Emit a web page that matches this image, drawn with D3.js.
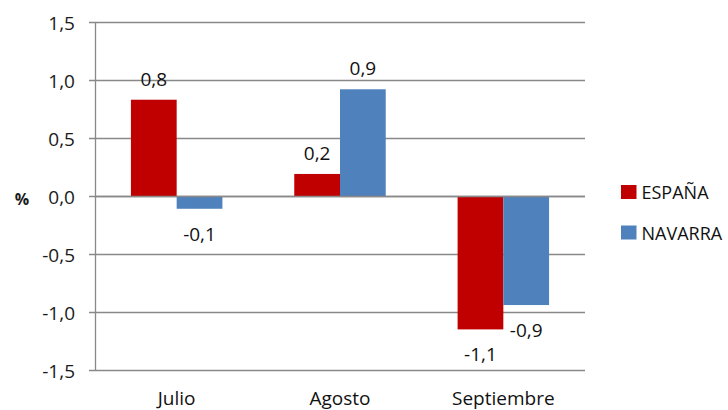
<!DOCTYPE html>
<html><head><meta charset="utf-8">
<script src="https://cdn.jsdelivr.net/npm/d3@7"></script>
<style>body{margin:0;background:#fff}svg{display:block}text{font-family:"Open Sans",Lato,sans-serif}</style>
</head><body>
<svg id="c" width="728" height="410"></svg>
<script>
const categories = ["Julio", "Agosto", "Septiembre"];
const seriesNames = ["ESPAÑA", "NAVARRA"];
const espana = [0.83, 0.19, -1.15];
const navarra = [-0.11, 0.92, -0.94];
const yTicks = [-1.5, -1.0, -0.5, 0.0, 0.5, 1.0, 1.5];
const colors = ["#C00000", "#4F81BD"];

(function () {
const svg = d3.select("#c");
const pLeft = 95, pRight = 585, pTop = 22, pBottom = 370;
const y = d3.scaleLinear().domain([-1.5, 1.5]).range([pBottom, pTop]);
const x0 = d3.scaleBand().domain(categories).range([pLeft, pRight]).paddingInner(0.44).paddingOuter(0.22);
const x1 = d3.scaleBand().domain(seriesNames).range([0, x0.bandwidth()]);
const fmt = v => v.toFixed(1).replace(".", ",");
const grid = "#898989";
const fs = 19;

// gridlines
svg.append("g").selectAll("line").data(yTicks).join("line")
  .attr("x1", pLeft - 6).attr("x2", pRight)
  .attr("y1", d => Math.round(y(d)) + 0.5).attr("y2", d => Math.round(y(d)) + 0.5)
  .attr("stroke", grid).attr("stroke-width", 1.3);
// y axis line
svg.append("line").attr("x1", pLeft + 0.5).attr("x2", pLeft + 0.5).attr("y1", pTop).attr("y2", pBottom + 0.5)
  .attr("stroke", grid).attr("stroke-width", 1.3);

// y tick labels
svg.append("g").selectAll("text").data(yTicks).join("text")
  .attr("x", 75).attr("y", d => y(d) + 8)
  .attr("text-anchor", "end").attr("font-size", fs).attr("fill", "#1a1a1a")
  .text(fmt);
svg.append("text").attr("x", 22).attr("y", y(0) + 9)
  .attr("text-anchor", "middle").attr("font-size", 16).attr("font-weight", "bold").attr("fill", "#1a1a1a").text("%");

// bars
const data = [];
categories.forEach((c, i) => {
  data.push({c, s: seriesNames[0], v: espana[i]});
  data.push({c, s: seriesNames[1], v: navarra[i]});
});
const g = svg.append("g");
g.selectAll("rect").data(data).join("rect")
  .attr("x", d => x0(d.c) + x1(d.s))
  .attr("width", x1.bandwidth())
  .attr("y", d => y(Math.max(0, d.v)))
  .attr("height", d => Math.abs(y(d.v) - y(0)))
  .attr("fill", d => colors[seriesNames.indexOf(d.s)]);

// zero line over bars
svg.append("line").attr("x1", pLeft).attr("x2", pRight)
  .attr("y1", Math.round(y(0)) + 0.5).attr("y2", Math.round(y(0)) + 0.5)
  .attr("stroke", grid).attr("stroke-width", 1.3);

// value labels
g.selectAll("text").data(data).join("text")
  .attr("x", d => x0(d.c) + x1(d.s) + x1.bandwidth() / 2)
  .attr("y", d => d.v >= 0 ? y(d.v) - 14 : y(d.v) + 32)
  .attr("text-anchor", "middle")
  .attr("font-size", fs).attr("fill", "#111").text(d => fmt(d.v));

// category labels
svg.append("g").selectAll("text").data(categories).join("text")
  .attr("x", d => x0(d) + x0.bandwidth() / 2).attr("y", 405)
  .attr("text-anchor", "middle").attr("font-size", fs).attr("fill", "#111").text(d => d);

// legend
const lg = svg.append("g").selectAll("g").data(seriesNames).join("g")
  .attr("transform", (d, i) => `translate(621,${185 + i * 40.5})`);
lg.append("rect").attr("width", 15.5).attr("height", 14).attr("fill", (d, i) => colors[i]);
lg.append("text").attr("x", 20.5).attr("y", 14)
  .attr("font-size", 18).attr("fill", "#111").text(d => d);
})();
</script>
</body></html>
